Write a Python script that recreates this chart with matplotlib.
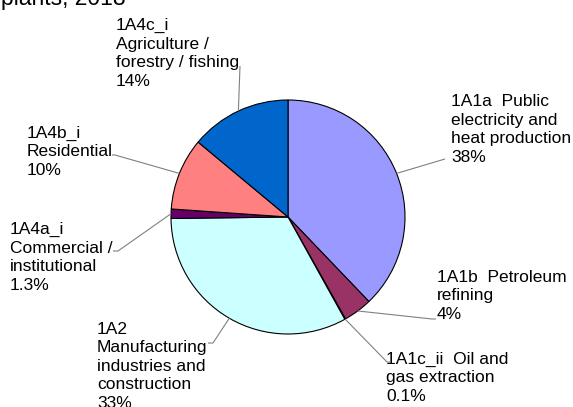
import matplotlib
matplotlib.use("Agg")
import matplotlib.pyplot as plt
import numpy as np

plt.rcParams['font.family'] = ['Liberation Sans', 'DejaVu Sans']

categories = [
    "1A1a  Public\nelectricity and\nheat production",
    "1A1b  Petroleum\nrefining",
    "1A1c_ii  Oil and\ngas extraction",
    "1A2\nManufacturing\nindustries and\nconstruction",
    "1A4a_i\nCommercial /\ninstitutional",
    "1A4b_i\nResidential",
    "1A4c_i\nAgriculture /\nforestry / fishing",
]
values = [38, 4, 0.1, 33, 1.3, 10, 14]
pct_labels = ["38%", "4%", "0.1%", "33%", "1.3%", "10%", "14%"]
colors = ["#9999FF", "#993366", "#FFFFCC", "#CCFFFF", "#660066", "#FF8080", "#0066CC"]
title = "plants, 2018"

W, H = 573, 407
fig = plt.figure(figsize=(W / 100, H / 100), dpi=100)
ax = fig.add_axes([0, 0, 1, 1])

cx, cy, r = 288, H - 217, 117
ax.pie(values, colors=colors, startangle=90, counterclock=False,
       center=(cx, cy), radius=r, normalize=True,
       wedgeprops=dict(edgecolor="black", linewidth=0.8))
ax.set_xlim(0, W)
ax.set_ylim(0, H)
ax.set_aspect("auto")
ax.axis("off")

# label layout: (x, last-line baseline y in image px, leader end points in image px)
layout = [
    (451, 162, [(445, 159)]),
    (437, 319, [(432, 319), (436, 319)]),
    (386, 401, [(387, 362), (390, 362)]),
    (97, 408, [(213, 343), (208, 343)]),
    (10, 290, [(118, 251), (113, 251)]),
    (27, 175, [(115, 155), (112, 155)]),
    (116, 86, [(240, 66)]),
]

vals = np.array(values, dtype=float)
frac = vals / vals.sum()
cum = np.cumsum(frac) - frac / 2
for i, (lx, ly, pts) in enumerate(layout):
    ang = np.deg2rad(90 - 360 * cum[i])
    ex, ey = cx + r * np.cos(ang), cy + r * np.sin(ang)
    xs = [ex] + [p[0] for p in pts]
    ys = [ey] + [H - p[1] for p in pts]
    ax.plot(xs, ys, color="#808080", lw=0.8, solid_capstyle="butt")
    ax.text(lx, H - ly, categories[i] + "\n" + pct_labels[i], fontsize=12.5,
            ha="left", va="baseline", linespacing=1.3, color="black")

ax.text(1, H - 5, title, fontsize=16.5, ha="left", va="baseline", color="black")

fig.savefig("out.png", dpi=100)
